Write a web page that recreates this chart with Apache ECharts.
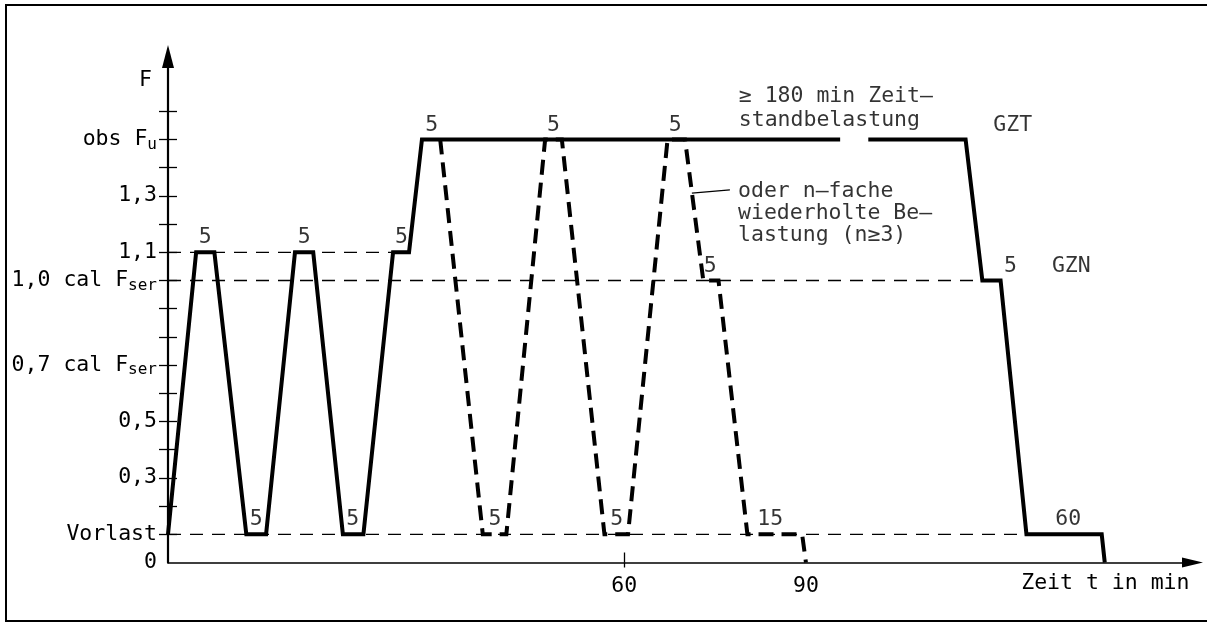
<!DOCTYPE html>
<html><head><meta charset="utf-8">
<script src="https://cdn.jsdelivr.net/npm/echarts@6/dist/echarts.min.js"></script>
<style>html,body{margin:0;padding:0;background:#fff}#c{width:1207px;height:623px}</style>
</head><body><div id="c"></div>
<script>
// Load path (time in schematic minutes, load level F)
const solidT = [0, 3.7, 6.1, 10.3, 12.9, 16.7, 19.1, 23.0, 25.7, 29.6, 31.7, 33.4, 88.4, 90.2, 92.1, 104.9, 107.1, 109.5, 112.9, 122.8, 123.2];
const solidF = [0.1, 1.1, 1.1, 0.1, 0.1, 1.1, 1.1, 0.1, 0.1, 1.1, 1.1, 1.5, 1.5, null, 1.5, 1.5, 1.0, 1.0, 0.1, 0.1, 0];
// Alternative: repeated loading (dashed)
const dashT = [35.8, 41.4, 44.5, 49.6, 51.8, 57.4, 60.5, 65.7, 68.0, 70.4, 72.4, 76.2, 83.4, 83.9];
const dashF = [1.5, 0.1, 0.1, 1.5, 1.5, 0.1, 0.1, 1.5, 1.5, 1.0, 1.0, 0.1, 0.1, 0];
// Reference levels (thin dashed)
const refLevels = [1.1, 1.0, 0.1];
const refEndT = [29.6, 107.1, 112.9];
// Hold-time labels
const holdT = [4.9, 11.6, 17.9, 24.3, 30.7, 34.7, 50.7, 66.7, 43.0, 59.0, 71.3, 79.2, 110.8, 118.4, 111.1, 118.8];
const holdF = [1.1, 0.1, 1.1, 0.1, 1.1, 1.5, 1.5, 1.5, 0.1, 0.1, 1.0, 0.1, 1.0, 0.1, 1.5, 1.0];
const holdText = ['5', '5', '5', '5', '5', '5', '5', '5', '5', '5', '5', '15', '5', '60', 'GZT', 'GZN'];
// Notes
const noteT = [75.0, 75.0, 74.9];
const noteF = [1.651, 1.569, 1.239];
const noteText = ['≥ 180 min Zeit–', 'standbelastung', 'oder n–fache\nwiederholte Be–\nlastung (n≥3)'];
const leaderT = [68.9, 73.9];
const leaderF = [1.310, 1.321];
// Axis labels
const xLabelValues = [60, 83.9];
const xLabelTexts = ['60', '90'];
const xTickValues = [60];
const yLabelValues = [0, 0.1, 0.3, 0.5, 0.7, 1.0, 1.1, 1.3, 1.5];
const yLabelMain = ['0', 'Vorlast', '0,3', '0,5', '0,7 cal F', '1,0 cal F', '1,1', '1,3', 'obs F'];
const yLabelSub = ['', '', '', '', 'ser', 'ser', '', '', 'u'];
const yTickValues = [0.1, 0.2, 0.3, 0.4, 0.5, 0.6, 0.7, 0.8, 0.9, 1.0, 1.1, 1.2, 1.3, 1.4, 1.5, 1.6];

const FONT = '"DejaVu Sans Mono", monospace';
const FS = 21.5;
const XMAX = 134.74, YMAX = 1.7943;

function idxOf(arr, v) { return arr.findIndex(a => Math.abs(a - v) < 1e-6); }

const chart = echarts.init(document.getElementById('c'), null, {renderer: 'canvas'});
const series = [];
refLevels.forEach((lv, i) => {
  series.push({type: 'line', data: [[0, lv], [refEndT[i], lv]], symbol: 'none', silent: true, z: 1,
    lineStyle: {color: '#000', width: 1.3, type: [13, 9]}});
});
series.push({type: 'line', data: dashT.map((t, i) => [t, dashF[i]]), symbol: 'none', silent: true, z: 3,
  lineStyle: {color: '#000', width: 4, type: [15, 8], join: 'miter'}});
series.push({type: 'line', data: solidT.map((t, i) => [t, solidF[i]]), symbol: 'none', silent: true, z: 4, connectNulls: false,
  lineStyle: {color: '#000', width: 4, join: 'miter'}});
series.push({type: 'line', data: leaderT.map((t, i) => [t, leaderF[i]]), symbol: 'none', silent: true, z: 2,
  lineStyle: {color: '#000', width: 1.3}});
series.push({type: 'scatter', symbolSize: 1, itemStyle: {color: 'rgba(0,0,0,0)'}, silent: true, z: 5,
  data: holdT.map((t, i) => ({value: [t, holdF[i]], name: holdText[i]})),
  label: {show: true, position: 'top', distance: 3, formatter: '{b}', color: '#000', fontFamily: FONT, fontSize: FS}});
series.push({type: 'scatter', symbolSize: 1, itemStyle: {color: 'rgba(0,0,0,0)'}, silent: true, z: 5,
  data: noteT.map((t, i) => ({value: [t, noteF[i]], name: noteText[i]})),
  label: {show: true, position: 'right', distance: 0, formatter: '{b}', color: '#000', fontFamily: FONT, fontSize: FS, lineHeight: 22, align: 'left', verticalAlign: 'middle'}});

const option = {
  animation: false,
  backgroundColor: '#fff',
  grid: {left: 168, right: 14.5, top: 56.5, bottom: 60.5},
  xAxis: [{
    type: 'value', min: 0, max: XMAX,
    name: 'Zeit t in min', nameLocation: 'end', nameGap: -3,
    nameTextStyle: {color: '#000', fontFamily: FONT, fontSize: FS, align: 'right', verticalAlign: 'top', padding: [10, 0, 0, 0]},
    axisLine: {show: true, symbol: ['none', 'triangle'], symbolSize: [10, 21], lineStyle: {color: '#000', width: 1.5}},
    axisTick: {show: true, customValues: xTickValues, length: 5, lineStyle: {color: '#000', width: 1.3}},
    axisLabel: {show: true, customValues: xLabelValues, margin: 13, color: '#000', fontFamily: FONT, fontSize: FS,
      formatter: v => { const i = idxOf(xLabelValues, v); return i >= 0 ? xLabelTexts[i] : ''; }},
    splitLine: {show: false}
  }, {
    type: 'value', min: 0, max: XMAX, position: 'bottom',
    axisLine: {show: false},
    axisTick: {show: true, inside: true, customValues: xTickValues, length: 10, lineStyle: {color: '#000', width: 1.3}},
    axisLabel: {show: false}, splitLine: {show: false}
  }],
  yAxis: [{
    type: 'value', min: 0, max: YMAX,
    name: 'F', nameLocation: 'end', nameGap: -24,
    nameTextStyle: {color: '#000', fontFamily: FONT, fontSize: FS, align: 'right', verticalAlign: 'middle', padding: [0, 16, 0, 0]},
    axisLine: {show: true, symbol: ['none', 'triangle'], symbolSize: [12, 23], lineStyle: {color: '#000', width: 2.2}},
    axisTick: {show: true, customValues: yTickValues, length: 9, lineStyle: {color: '#000', width: 1.3}},
    axisLabel: {show: true, customValues: yLabelValues, margin: 11, color: '#000',
      formatter: v => {
        const i = idxOf(yLabelValues, v); if (i < 0) return '';
        if (!yLabelSub[i]) return '{m|' + yLabelMain[i] + '}';
        return '{m|' + yLabelMain[i] + '}{s|' + yLabelSub[i] + '}';
      },
      rich: {
        m: {fontFamily: FONT, fontSize: FS, color: '#000'},
        s: {fontFamily: FONT, fontSize: 16, color: '#000', padding: [10, 0, 0, 0]}
      }},
    splitLine: {show: false}
  }, {
    type: 'value', min: 0, max: YMAX, position: 'left', offset: 0,
    axisLine: {show: false},
    axisTick: {show: true, inside: true, customValues: yTickValues, length: 9, lineStyle: {color: '#000', width: 1.3}},
    axisLabel: {show: false}, splitLine: {show: false}
  }],
  graphic: [{type: 'rect', shape: {x: 6, y: 5, width: 1215, height: 616}, style: {fill: 'none', stroke: '#000', lineWidth: 2}, silent: true}],
  series: series
};
chart.setOption(option);
</script>
</body></html>
